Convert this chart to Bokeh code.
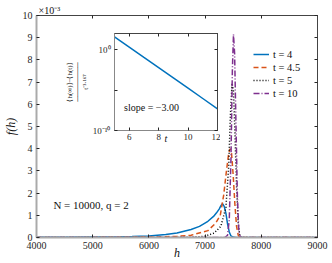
import math
from bokeh.plotting import figure
from bokeh.models import (Range1d, LinearAxis, LogAxis, FixedTicker, Label, Legend, LegendItem,
                          GridBox, CustomJSTickFormatter)
from bokeh.embed import file_html
from bokeh.resources import INLINE

# ---------------- data ----------------
h_t4 = [4000, 4500, 5000, 5500, 5700, 6000, 6300, 6500, 6750, 6900, 7050, 7150, 7200, 7250, 7280,
        7310, 7340, 7370, 7400, 7430, 7460, 7500, 7550, 9000]
f_t4 = [0.01, 0.015, 0.025, 0.035, 0.04, 0.07, 0.13, 0.2, 0.36, 0.5, 0.73, 0.95, 1.1, 1.28, 1.43,
        1.52, 1.4, 1.1, 0.6, 0.25, 0.07, 0.02, 0.0, 0.0]

h_t45 = [4000, 5000, 6000, 6500, 6750, 7050, 7190, 7270, 7330, 7380, 7420, 7445, 7470, 7500, 7530,
         7560, 7590, 7620, 9000]
f_t45 = [0.0, 0.005, 0.02, 0.05, 0.1, 0.31, 0.65, 1.0, 1.9, 3.0, 3.8, 4.0, 3.8, 2.8, 1.5,
         0.5, 0.1, 0.0, 0.0]

h_t5 = [4000, 6500, 6870, 7000, 7160, 7280, 7370, 7420, 7450, 7480, 7505, 7530, 7560, 7590, 7620,
        7650, 9000]
f_t5 = [0.0, 0.005, 0.02, 0.06, 0.2, 0.5, 1.35, 3.2, 5.5, 6.95, 6.6, 4.8, 2.3, 0.6, 0.05,
        0.0, 0.0]

h_t10 = [4000, 7350, 7400, 7430, 7460, 7485, 7505, 7525, 7550, 7575, 7600, 7630, 9000]
f_t10 = [0.0, 0.0, 0.1, 0.8, 3.5, 7.5, 9.15, 8.3, 5.0, 1.8, 0.3, 0.0, 0.0]

series_labels = ["t = 4", "t = 4.5", "t = 5", "t = 10"]

# inset data
t_inset = [5, 6, 7, 8, 9, 10, 11, 12]
d_inset = [39, 2.1, 0.11, 6.0e-3, 3.2e-4, 1.7e-5, 9.1e-7, 4.8e-8]

x_ticks = [4000, 5000, 6000, 7000, 8000, 9000]
y_ticks = [0, 1, 2, 3, 4, 5, 6, 7, 8, 9, 10]
inset_x_ticks = [6, 8, 10, 12]
inset_y_ticks = [1e-10, 1.0]
inset_y_minor = [1e-5]
inset_y_labels = ["10\u207b\u00b9\u2070", "10\u2070"]

SERIF = "Liberation Serif"
AX = "#262626"


def box_axis(cls, ticker):
    return cls(ticker=ticker, major_tick_in=3, major_tick_out=0, minor_tick_in=3,
               minor_tick_out=0, formatter=CustomJSTickFormatter(code="return '';"),
               major_label_standoff=0, axis_line_color="#444444", major_tick_line_color=AX,
               minor_tick_line_color=AX)


# ---------------- main figure ----------------
p = figure(width=330, height=262, x_range=Range1d(4000, 9000), y_range=Range1d(0, 10),
           output_backend="svg", toolbar_location=None, title="\u00d710\u207b\u00b3",
           min_border_left=35, min_border_right=13, min_border_top=15, min_border_bottom=24)
p.background_fill_color = "white"
p.border_fill_color = "white"
p.outline_line_color = "#444444"
p.outline_line_width = 1
p.grid.visible = False

p.title.text_font = SERIF
p.title.text_font_size = "10px"
p.title.text_font_style = "normal"
p.title.text_color = "#111111"
p.title.align = "left"
p.title.offset = 2
p.title.standoff = 0

for ax in p.xaxis:
    ax.ticker = FixedTicker(ticks=x_ticks)
for ax in p.yaxis:
    ax.ticker = FixedTicker(ticks=y_ticks)

for ax in list(p.xaxis) + list(p.yaxis):
    ax.major_tick_in = 3
    ax.major_tick_out = 0
    ax.minor_tick_in = 0
    ax.minor_tick_out = 0
    ax.axis_line_color = "#aaaaaa"
    ax.axis_line_width = 2
    ax.major_tick_line_color = AX
    ax.major_label_text_font = SERIF
    ax.major_label_text_font_size = "10px"
    ax.major_label_text_color = AX
    ax.axis_label_text_font = SERIF
    ax.axis_label_text_font_style = "italic"
    ax.axis_label_text_font_size = "12px"
    ax.axis_label_text_color = "#111111"
p.xaxis.major_label_standoff = 4
p.yaxis.major_label_standoff = 4
p.xaxis.axis_label = "h"
p.xaxis.axis_label_standoff = -6
p.yaxis.axis_label = "f(h)"
p.yaxis.axis_label_standoff = 2

p.add_layout(box_axis(LinearAxis, FixedTicker(ticks=y_ticks)), "right")
p.add_layout(box_axis(LinearAxis, FixedTicker(ticks=x_ticks)), "above")

r1 = p.line(h_t4, f_t4, line_color="#0072BD", line_width=1.5)
r2 = p.line(h_t45, f_t45, line_color="#D95319", line_width=1.5, line_dash="5 3")
r3 = p.line(h_t5, f_t5, line_color="#000000", line_width=1.5, line_dash="1 2")
r4 = p.line(h_t10, f_t10, line_color="#7E2F8E", line_width=1.5, line_dash="6 2 1 2")

legend = Legend(items=[LegendItem(label=series_labels[i], renderers=[r])
                       for i, r in enumerate([r1, r2, r3, r4])],
                location=(215, 136), glyph_width=16, glyph_height=12, label_height=12,
                spacing=1, padding=2, margin=0, label_standoff=4,
                label_text_font=SERIF, label_text_font_size="10.5px", label_text_color="#111111",
                background_fill_alpha=0, border_line_alpha=0)
p.add_layout(legend)

p.add_layout(Label(x=4301, y=1.48, text="N = 10000, q = 2", text_font=SERIF,
                   text_font_size="11px", text_baseline="middle", text_color="#111111"))

# ---------------- inset figure ----------------
ins = figure(width=158, height=116, x_range=Range1d(5, 12), y_range=Range1d(1e-10, 1e2),
             y_axis_type="log", output_backend="svg", toolbar_location=None,
             min_border_left=48, min_border_right=3, min_border_top=3, min_border_bottom=15)
ins.background_fill_color = "white"
ins.background_fill_alpha = 1
ins.border_fill_alpha = 0
ins.outline_line_color = "#444444"
ins.grid.visible = False

ins.xaxis.ticker = FixedTicker(ticks=inset_x_ticks)
ins.yaxis.ticker = FixedTicker(ticks=inset_y_ticks, minor_ticks=inset_y_minor)
ins.yaxis.formatter = CustomJSTickFormatter(
    args=dict(tvals=inset_y_ticks, tlabels=inset_y_labels),
    code="""
    for (let i = 0; i < tvals.length; i++) {
      if (Math.abs(Math.log10(tvals[i]) - Math.log10(tick)) < 1e-6) return tlabels[i];
    }
    return '';
    """)
for ax in list(ins.xaxis) + list(ins.yaxis):
    ax.major_tick_in = 3
    ax.major_tick_out = 0
    ax.minor_tick_in = 3
    ax.minor_tick_out = 0
    ax.axis_line_color = "#888888"
    ax.axis_line_width = 1
    ax.major_tick_line_color = AX
    ax.minor_tick_line_color = AX
    ax.major_label_text_font = SERIF
    ax.major_label_text_font_size = "9px"
    ax.major_label_text_color = AX
    ax.axis_label_text_font = SERIF
    ax.axis_label_text_color = "#111111"
ins.xaxis.minor_tick_in = 0
ins.xaxis.major_label_standoff = 3
ins.yaxis.major_label_standoff = 4

ins.xaxis.axis_label = "t"
ins.xaxis.axis_label_text_font_style = "italic"
ins.xaxis.axis_label_text_font_size = "10px"
ins.xaxis.axis_label_standoff = -10

ins.yaxis.axis_label = ("\u27e8h(\u221e)\u27e9\u2212\u27e8h(t)\u27e9\n"
                        + "\u2500" * 8 + "\n"
                        + "t\u207b\u00b3\u00b7\u00b9\u2076\u2077")
ins.yaxis.axis_label_text_font_style = "normal"
ins.yaxis.axis_label_text_font_size = "7px"
ins.yaxis.axis_label_text_line_height = 1.0
ins.yaxis.axis_label_standoff = 0

ins.add_layout(box_axis(LogAxis, FixedTicker(ticks=inset_y_ticks, minor_ticks=inset_y_minor)),
               "right")
ins.add_layout(box_axis(LinearAxis, FixedTicker(ticks=inset_x_ticks)), "above")

ins.line(t_inset, d_inset, line_color="#0072BD", line_width=1.5)

ins.add_layout(Label(x=5.65, y=6.3e-8, text="slope = \u22123.00", text_font=SERIF,
                     text_font_size="10px", text_baseline="middle", text_color="#111111"))

layout = GridBox(children=[(p, 0, 0, 3, 3), (ins, 1, 1, 1, 1)],
                 rows=["30px", "116px", "116px"], cols=["62px", "158px", "110px"])

open("out.html", "w").write(file_html(layout, INLINE))
